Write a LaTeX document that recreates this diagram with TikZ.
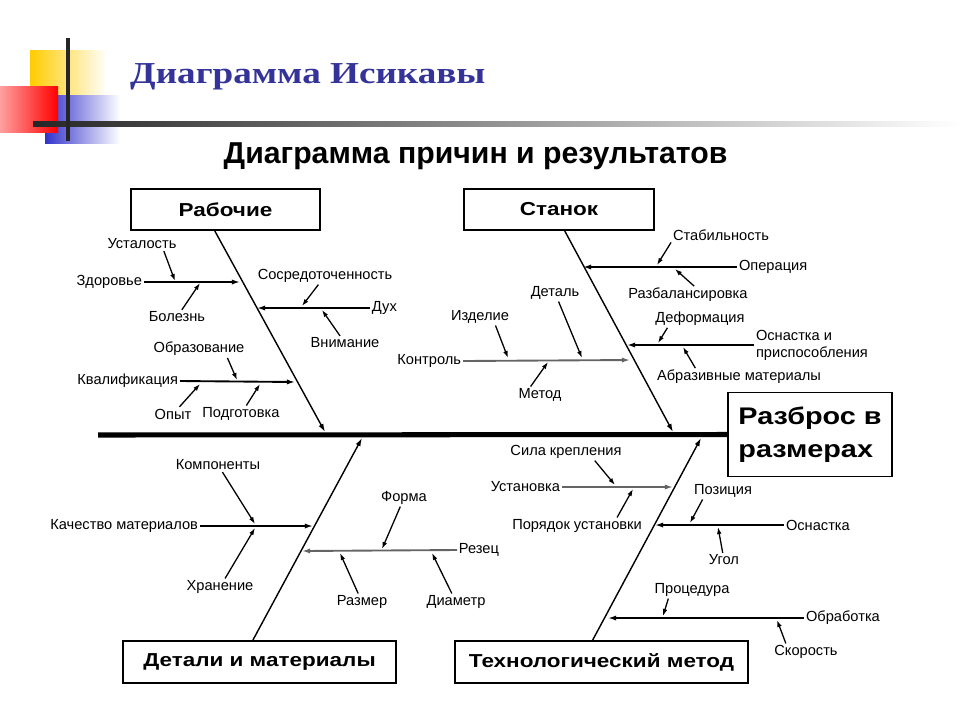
\documentclass[tikz,border=0pt]{standalone}
\usepackage{fontspec}
\setmainfont{Liberation Sans}
\newfontfamily\widesans[FakeStretch=1.2]{Liberation Sans}
\newfontfamily\serifb[FakeStretch=1.22]{Liberation Serif}
\usetikzlibrary{arrows.meta,calc}
\definecolor{titleblue}{RGB}{51,51,153}
\definecolor{decyellow}{RGB}{255,204,0}
\definecolor{decblue}{RGB}{51,51,204}
\definecolor{decred}{RGB}{255,0,0}
\definecolor{decpink}{RGB}{255,160,160}
\definecolor{grayline}{RGB}{100,100,100}
\newcommand\labfont{\fontsize{12.5}{15}\selectfont}
\newcommand\boxfont{\widesans\bfseries\fontsize{16}{18}\selectfont}
\tikzset{
  lab/.style={font=\labfont, inner sep=1.5pt},
  catbox/.style={draw, line width=1.6pt, font=\boxfont, inner sep=0pt},
  bone/.style={line width=1.2pt, -{Latex[length=7pt,width=4.5pt]}},
  branch/.style={line width=1.6pt, -{Latex[length=7pt,width=4.5pt]}},
  graybranch/.style={branch, draw=grayline},
  sub/.style={line width=1.1pt, -{Latex[length=6pt,width=4pt]}},
}
\begin{document}
\begin{tikzpicture}[x=0.03cm,y=-0.03cm]
\useasboundingbox (0,0) rectangle (960,720);
% decoration
\shade[left color=decyellow, right color=white] (30,50) rectangle (107,95);
\shade[left color=decblue, right color=white] (45,95) rectangle (120,143);
\shade[left color=decpink, right color=decred] (0,86) rectangle (58,132);
\shade[left color=black!85, right color=white] (33,121) rectangle (960,126);
\fill[black!85] (66,38) rectangle (70,141);
\node[anchor=base west, font=\serifb\bfseries\fontsize{26}{30}\selectfont, text=titleblue, inner sep=0pt] (title) at (130,83) {Диаграмма Исикавы};
\node[anchor=base, font=\bfseries\fontsize{25.8}{28}\selectfont, inner sep=0pt] (subtitle) at (475.5,163) {Диаграмма причин и результатов};

% boxes
\node[catbox, minimum width=5.67cm, minimum height=1.23cm] (rab) at (225.5,209.5) {Рабочие};
\node[catbox, minimum width=5.7cm, minimum height=1.23cm] (stan) at (559,209.5) {Станок};
\node[catbox, minimum width=8.19cm, minimum height=1.26cm] (det) at (259.5,662) {Детали и материалы};
\node[catbox, minimum width=8.79cm, minimum height=1.26cm] (tech) at (601.5,662) {Технологический метод};
\node[catbox, minimum width=4.92cm, minimum height=2.52cm, align=left, font=\widesans\bfseries\fontsize{20.5}{28}\selectfont] (razb) at (810,434.5) {Разброс в\\размерах};

% spine
\coordinate (spL) at (98,435);
\draw[line width=4.3pt] (spL) -- (razb.west);

% main bones
\coordinate (b1) at (325,432);
\coordinate (b2) at (673,432);
\coordinate (b3) at (362,438);
\coordinate (b4) at (701,438);
\draw[bone] ($(rab.south west)!0.444!(rab.south east)$) -- (b1);
\draw[bone] ($(stan.south west)!0.53!(stan.south east)$) -- (b2);
\draw[bone] ($(det.north west)!0.476!(det.north east)$) -- (b3);
\draw[bone] ($(tech.north west)!0.47!(tech.north east)$) -- (b4);

% ---- Рабочие
\node[lab, anchor=east] (zdor) at (144,282) {Здоровье};
\node[lab] (ust) at (142,244) {Усталость};
\node[lab] (bol) at (177,317) {Болезнь};
\node[lab] (sos) at (325,276) {Сосредоточенность};
\node[lab, anchor=west] (dux) at (370,308) {Дух};
\node[lab] (vni) at (345,343) {Внимание};
\node[lab] (obr) at (199,349) {Образование};
\node[lab, anchor=east] (kval) at (180,381) {Квалификация};
\node[lab] (opyt) at (173,414) {Опыт};
\node[lab] (podg) at (241,414) {Подготовка};
\coordinate (czd) at (240,282);
\coordinate (cdux) at (257,308);
\coordinate (ckv) at (295,382);
\coordinate (cust) at (175,281);
\coordinate (cbol) at (200,283);
\coordinate (csos) at (302,306);
\coordinate (cvni) at (322,310);
\coordinate (cobr) at (237,380);
\coordinate (copyt) at (200,384);
\coordinate (cpodg) at (260,384);
\draw[branch] (zdor.east) -- (czd);
\draw[branch] (dux.west) -- (cdux);
\draw[branch] (kval.east) -- (ckv);
\draw[sub] ($(ust.south west)!0.8!(ust.south east)$) -- (cust);
\draw[sub] (bol) -- (cbol);
\draw[sub] (sos) -- (csos);
\draw[sub] (vni) -- (cvni);
\draw[sub] ($(obr.south west)!0.8!(obr.south east)$) -- (cobr);
\draw[sub] (opyt) -- (copyt);
\draw[sub] (podg) -- (cpodg);

% ---- Станок
\node[lab] (stab) at (721,235) {Стабильность};
\node[lab, anchor=west] (oper) at (737,267) {Операция};
\node[lab] (razbal) at (688,295) {Разбалансировка};
\node[lab] (detal) at (555,293) {Деталь};
\node[lab] (izd) at (480,317) {Изделие};
\node[lab, anchor=east] (kontr) at (463,361) {Контроль};
\node[lab] (metod) at (540,395) {Метод};
\node[lab] (deform) at (700,319) {Деформация};
\node[lab, anchor=west, align=left, font=\fontsize{12.5}{14.5}\selectfont] (osnpr) at (754,345) {Оснастка и\\приспособления};
\node[lab] (abraz) at (739,377) {Абразивные материалы};
\coordinate (coper) at (583,267);
\coordinate (cstab) at (657,265);
\coordinate (crazbal) at (675,269);
\coordinate (ckontr) at (630,360);
\coordinate (cdetal) at (582,358);
\coordinate (cizd) at (508,358);
\coordinate (cmetod) at (548,362);
\coordinate (cosn) at (627,345);
\coordinate (cdeform) at (658,343);
\coordinate (cabraz) at (683,347);
\draw[branch] (oper.west) -- (coper);
\draw[graybranch] (kontr.east) -- (ckontr);
\draw[branch] (osnpr.west) -- (cosn);
\draw[sub] (stab.south west) -- (cstab);
\draw[sub] ($(razbal.north west)!0.55!(razbal.north east)$) -- (crazbal);
\draw[sub] (detal) -- (cdetal);
\draw[sub] ($(izd.south west)!0.75!(izd.south east)$) -- (cizd);
\draw[sub] ($(metod.north west)!0.3!(metod.north east)$) -- (cmetod);
\draw[sub] ($(deform.south west)!0.15!(deform.south east)$) -- (cdeform);
\draw[sub] ($(abraz.north west)!0.24!(abraz.north east)$) -- (cabraz);

% ---- Детали и материалы
\node[lab] (komp) at (218,465) {Компоненты};
\node[lab, anchor=east] (kach) at (200,526) {Качество материалов};
\node[lab] (hran) at (220,587) {Хранение};
\node[lab] (forma) at (404,498) {Форма};
\node[lab, anchor=west] (rez) at (457,550) {Резец};
\node[lab] (razmer) at (362,602) {Размер};
\node[lab] (diam) at (456,602) {Диаметр};
\coordinate (ckach) at (313,526);
\coordinate (ckomp) at (255,524);
\coordinate (chran) at (255,528);
\coordinate (crez) at (302,551);
\coordinate (cforma) at (382,549);
\coordinate (crazmer) at (340,553);
\coordinate (cdiam) at (432,553);
\draw[branch] (kach.east) -- (ckach);
\draw[graybranch] (rez.west) -- (crez);
\draw[sub] (komp) -- (ckomp);
\draw[sub] (hran) -- (chran);
\draw[sub] (forma) -- (cforma);
\draw[sub] (razmer) -- (crazmer);
\draw[sub] (diam) -- (cdiam);

% ---- Технологический метод
\node[lab] (sila) at (566,452) {Сила крепления};
\node[lab, anchor=east] (ustan) at (562,487) {Установка};
\node[lab] (poryad) at (577,526) {Порядок установки};
\node[lab] (poz) at (723,491) {Позиция};
\node[lab, anchor=west] (osn) at (784,525) {Оснастка};
\node[lab] (ugol) at (724,560) {Угол};
\node[lab] (proc) at (692,590) {Процедура};
\node[lab, anchor=west] (obrab) at (804,618) {Обработка};
\node[lab] (skor) at (806,652) {Скорость};
\coordinate (custan) at (673,487);
\coordinate (csila) at (615,485);
\coordinate (cporyad) at (633,489);
\coordinate (cosn2) at (655,525);
\coordinate (cpoz) at (690,523);
\coordinate (cugol) at (718,527);
\coordinate (cobrab) at (608,618);
\coordinate (cproc) at (663,616);
\coordinate (cskor) at (777,620);
\draw[graybranch] (ustan.east) -- (custan);
\draw[branch] (osn.west) -- (cosn2);
\draw[branch] (obrab.west) -- (cobrab);
\draw[sub] ($(sila.south west)!0.75!(sila.south east)$) -- (csila);
\draw[sub] ($(poryad.north west)!0.8!(poryad.north east)$) -- (cporyad);
\draw[sub] ($(poz.south west)!0.17!(poz.south east)$) -- (cpoz);
\draw[sub] (ugol) -- (cugol);
\draw[sub] ($(proc.south west)!0.2!(proc.south east)$) -- (cproc);
\draw[sub] ($(skor.north west)!0.2!(skor.north east)$) -- (cskor);
\end{tikzpicture}
\end{document}
